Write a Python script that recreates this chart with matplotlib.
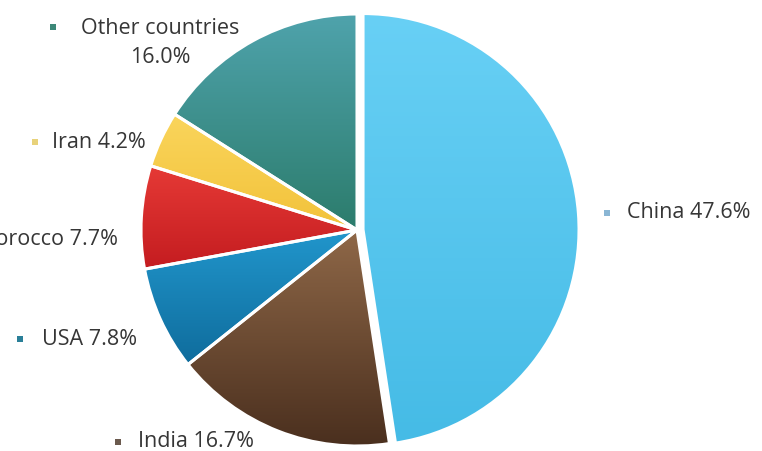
import numpy as np
import matplotlib.pyplot as plt
from matplotlib.colors import LinearSegmentedColormap

# data
countries = ['China', 'India', 'USA', 'Morocco', 'Iran', 'Other countries']
shares = [47.6, 16.7, 7.8, 7.7, 4.2, 16.0]
labels = ['China 47.6%', 'India 16.7%', 'USA 7.8%', 'Morocco 7.7%', 'Iran 4.2%',
          'Other countries\n16.0%']

# light (top) -> dark (bottom) for each slice
tops = ['#68D0F5', '#8F6848', '#2196CC', '#E63A36', '#FAD55C', '#4FA3AC']
bottoms = ['#45BBE6', '#4A2F1E', '#0F6C9C', '#C41C20', '#F2C23A', '#2C7C6C']
marker_cols = ['#8AB6D4', '#6B5A4E', '#2A7F98', '#C03030', '#E8D27A', '#3C8878']

# label positions in pixels (x, y from top), alignment
# (Morocco label runs off the left edge, as in the original)
label_px = [(627, 213, 'left'), (138, 442, 'left'), (42, 340, 'left'),
            (118, 240, 'right'), (52, 143, 'left'), (160, 43, 'center')]
marker_px = [(607, 214), (118, 443), (20, 340), (None, None), (35, 143), (53, 28)]

W, H = 762, 452
R = 216.0
cx, cy = 357.0, 231.0

fig = plt.figure(figsize=(W / 100, H / 100), dpi=100)
ax = fig.add_axes([0, 0, 1, 1])
ax.axis('off')

def px(x, y):
    return (x - cx) / R, (cy - y) / R

explode = [0.028, 0, 0, 0, 0, 0]
wedges, _ = ax.pie(shares, startangle=90, counterclock=False, explode=explode,
                   radius=1.0, wedgeprops=dict(edgecolor='white', linewidth=2.2))

# vertical gradient fill per slice
for w, c1, c2 in zip(wedges, tops, bottoms):
    ext = w.get_path().get_extents(w.get_patch_transform())
    cmap = LinearSegmentedColormap.from_list('g', [c2, c1])
    grad = np.linspace(0, 1, 256).reshape(-1, 1)
    im = ax.imshow(grad, cmap=cmap, origin='lower', aspect='auto',
                   extent=[ext.x0, ext.x1, ext.y0, ext.y1], zorder=1)
    im.set_clip_path(w)
    w.set_facecolor('none')
    w.set_zorder(2)

ax.set_xlim(-cx / R, (W - cx) / R)
ax.set_ylim(-(H - cy) / R, cy / R)

for lab, (x, y, ha), (mx, my), mc in zip(labels, label_px, marker_px, marker_cols):
    tx, ty = px(x, y)
    ax.text(tx, ty, lab, ha=ha, va='center', fontsize=15.5, family='Open Sans',
            color='#363636', linespacing=1.5)
    if mx is not None:
        mxx, myy = px(mx, my)
        ax.plot(mxx, myy, 's', color=mc, markersize=5, markeredgewidth=0)

fig.savefig('out.png', dpi=100)
